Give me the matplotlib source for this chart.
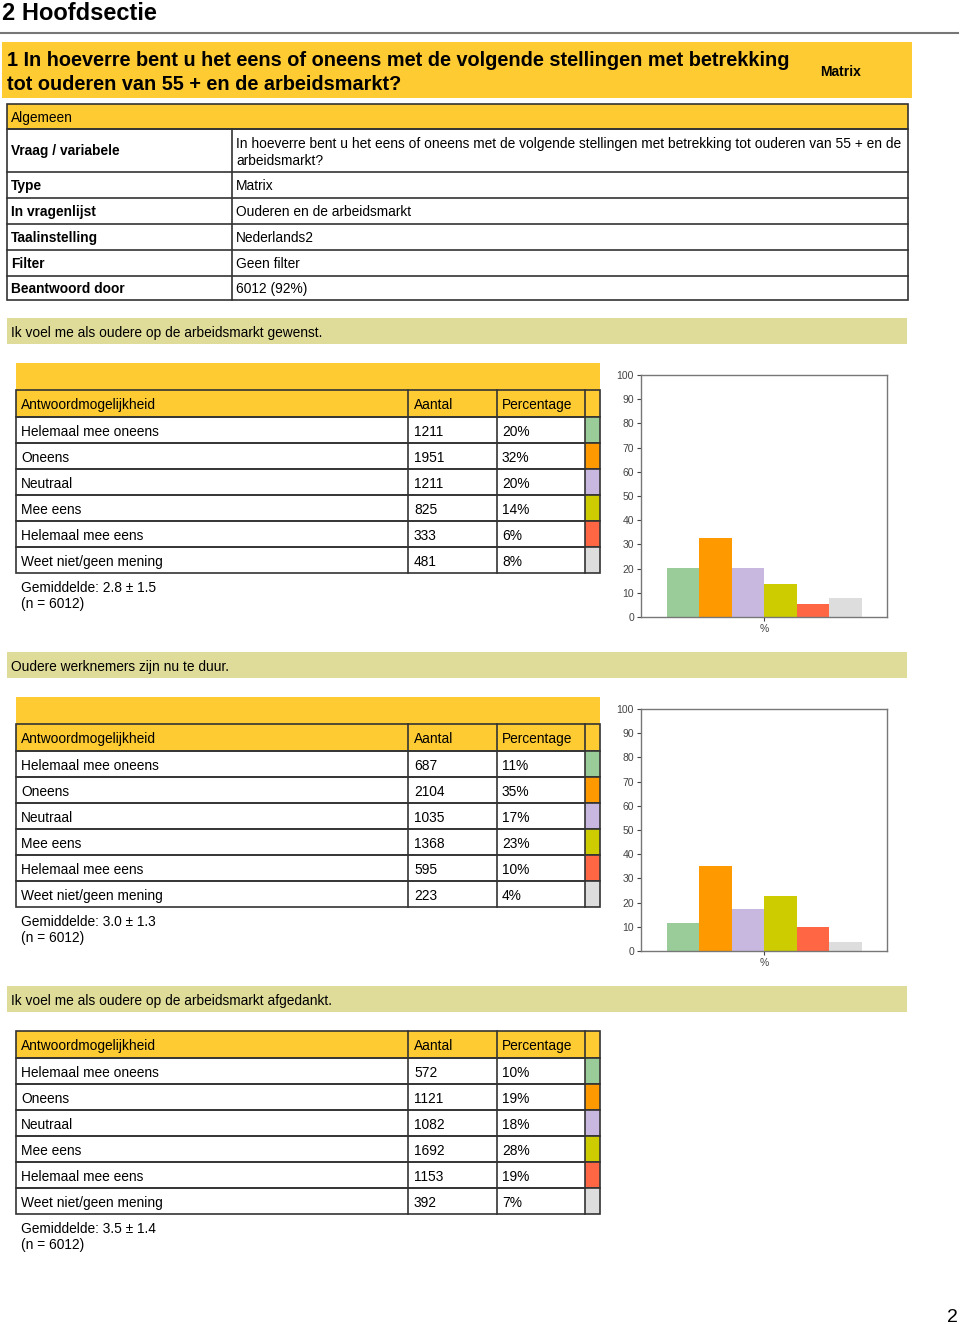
import matplotlib.pyplot as plt
from matplotlib.patches import Rectangle

plt.rcParams['font.family'] = ['Liberation Sans', 'DejaVu Sans']

# ---------------- data ----------------
kop = "2 Hoofdsectie"
vraag_regels = ["1 In hoeverre bent u het eens of oneens met de volgende stellingen met betrekking",
                "tot ouderen van 55 + en de arbeidsmarkt?"]
alg_labels = ["Vraag / variabele", "Type", "In vragenlijst", "Taalinstelling", "Filter", "Beantwoord door"]
alg_waarden = ["In hoeverre bent u het eens of oneens met de volgende stellingen met betrekking tot ouderen van 55 + en de\narbeidsmarkt?",
               "Matrix", "Ouderen en de arbeidsmarkt", "Nederlands2", "Geen filter", "6012 (92%)"]

antwoorden = ["Helemaal mee oneens", "Oneens", "Neutraal", "Mee eens", "Helemaal mee eens", "Weet niet/geen mening"]
kleuren = ["#99cc99", "#ff9900", "#c8b8e0", "#cccc00", "#ff6644", "#dddddd"]

stellingen = ["Ik voel me als oudere op de arbeidsmarkt gewenst.",
              "Oudere werknemers zijn nu te duur.",
              "Ik voel me als oudere op de arbeidsmarkt afgedankt."]
aantal = [[1211, 1951, 1211, 825, 333, 481],
          [687, 2104, 1035, 1368, 595, 223],
          [572, 1121, 1082, 1692, 1153, 392]]
percentage = [["20%", "32%", "20%", "14%", "6%", "8%"],
              ["11%", "35%", "17%", "23%", "10%", "4%"],
              ["10%", "19%", "18%", "28%", "19%", "7%"]]
gemiddelde = ["Gemiddelde: 2.8 ± 1.5", "Gemiddelde: 3.0 ± 1.3", "Gemiddelde: 3.5 ± 1.4"]
n_totaal = 6012

GEEL = "#fecb33"
KHAKI = "#dfdc99"
LIJN = "#333333"
W, H = 960, 1324
FS = 9.9

fig = plt.figure(figsize=(9.6, 13.24), dpi=100)
ax = fig.add_axes([0, 0, 1, 1])
ax.set_xlim(0, W)
ax.set_ylim(H, 0)
ax.axis("off")


def rect(x0, y0, x1, y1, fc="none", ec="none", lw=1.2):
    ax.add_patch(Rectangle((x0, y0), x1 - x0, y1 - y0, facecolor=fc, edgecolor=ec, lw=lw))


# kop
ax.text(2, 13, kop, fontsize=17, fontweight="bold", va="center")
ax.plot([0, 958], [33, 33], color="#777777", lw=1.5)

# gele vraagbalk
rect(2, 42, 912, 98, fc=GEEL)
ax.text(7, 60, vraag_regels[0], fontsize=14.3, fontweight="bold", va="center")
ax.text(7, 84, vraag_regels[1], fontsize=14.3, fontweight="bold", va="center")
ax.text(820, 72, "Matrix", fontsize=10, fontweight="bold", va="center")

# tabel algemeen
rect(7, 104, 908, 129, fc=GEEL, ec=LIJN)
ax.text(11, 118, "Algemeen", fontsize=FS, va="center")
rijen = [129, 172, 198, 224, 250, 276, 300]
rect(7, 129, 908, 300, ec=LIJN)
for y in rijen[1:-1]:
    ax.plot([7, 908], [y, y], color=LIJN, lw=1.2)
ax.plot([232, 232], [129, 300], color=LIJN, lw=1.2)
for i in range(len(alg_labels)):
    ym = (rijen[i] + rijen[i + 1]) / 2 + 1
    ax.text(11, ym, alg_labels[i], fontsize=FS, fontweight="bold", va="center")
    if i == 0:
        ax.text(236, ym + 1, alg_waarden[i], fontsize=FS, va="center", linespacing=1.2)
    else:
        ax.text(236, ym, alg_waarden[i], fontsize=FS, va="center")

# secties
sectie_top = [318, 652, 986]
for s in range(3):
    y0 = sectie_top[s]
    rect(7, y0, 907, y0 + 26, fc=KHAKI)
    ax.text(11, y0 + 15, stellingen[s], fontsize=FS, va="center")

    if s < 2:
        rect(16, y0 + 45, 600, y0 + 72, fc=GEEL)
        th = y0 + 72
    else:
        th = y0 + 45
    # header
    kol = [16, 408, 497, 585, 600]
    rect(16, th, 600, th + 27, fc=GEEL, ec=LIJN)
    for x in kol[1:-1]:
        ax.plot([x, x], [th, th + 27], color=LIJN, lw=1.2)
    ax.text(21, th + 15, "Antwoordmogelijkheid", fontsize=FS, va="center")
    ax.text(414, th + 15, "Aantal", fontsize=FS, va="center")
    ax.text(502, th + 15, "Percentage", fontsize=FS, va="center")
    for i in range(len(antwoorden)):
        r0 = th + 27 + 26 * i
        rect(585, r0, 600, r0 + 26, fc=kleuren[i])
        rect(16, r0, 600, r0 + 26, ec=LIJN)
        for x in kol[1:-1]:
            ax.plot([x, x], [r0, r0 + 26], color=LIJN, lw=1.2)
        ax.text(21, r0 + 15, antwoorden[i], fontsize=FS, va="center")
        ax.text(414, r0 + 15, str(aantal[s][i]), fontsize=FS, va="center")
        ax.text(502, r0 + 15, percentage[s][i], fontsize=FS, va="center")
    onder = th + 27 + 26 * len(antwoorden)
    ax.text(21, onder + 15, gemiddelde[s], fontsize=FS, va="center")
    ax.text(21, onder + 31, "(n = %d)" % n_totaal, fontsize=FS, va="center")

    # staafdiagram
    if s < 2:
        top = y0 + 57
        bodem = y0 + 299
        bx = fig.add_axes([641 / W, 1 - bodem / H, 246 / W, (bodem - top) / H])
        totaal = sum(aantal[s])
        waarden = [a / totaal * 100 for a in aantal[s]]
        posities = list(range(len(waarden)))
        bx.bar(posities, waarden, width=1.0, color=kleuren)
        bx.set_xlim(-1.3, 6.27)
        bx.set_ylim(0, 100)
        bx.set_yticks(range(0, 101, 10))
        bx.set_xticks([2.5])
        bx.set_xticklabels(["%"])
        bx.tick_params(labelsize=7.5, colors="#444444", length=3, width=0.8, pad=2)
        for sp in bx.spines.values():
            sp.set_color("#777777")
            sp.set_linewidth(1.0)

ax.text(952, 1317, "2", fontsize=14, va="center", ha="center")

fig.savefig("out.png", dpi=100)
